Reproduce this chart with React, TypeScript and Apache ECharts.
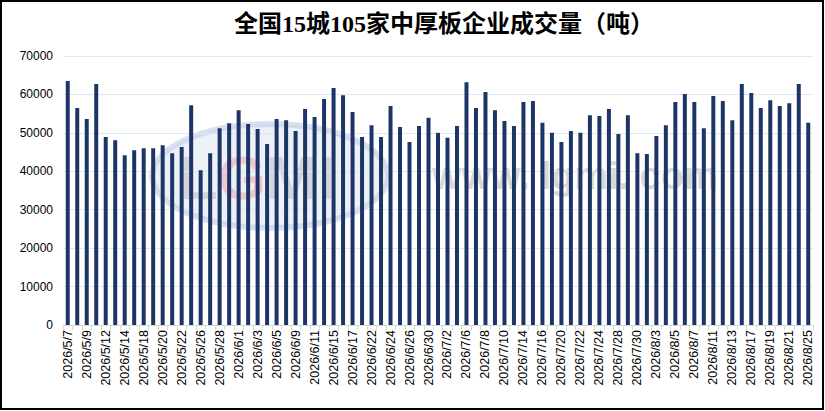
import React, { useEffect, useRef } from "react";
import * as echarts from "echarts";

const categories: string[] = [
  "2026/5/7", "2026/5/8", "2026/5/9", "2026/5/11", "2026/5/12", "2026/5/13", "2026/5/14", "2026/5/15",
  "2026/5/18", "2026/5/19", "2026/5/20", "2026/5/21", "2026/5/22", "2026/5/25", "2026/5/26", "2026/5/27",
  "2026/5/28", "2026/5/29", "2026/6/1", "2026/6/2", "2026/6/3", "2026/6/4", "2026/6/5", "2026/6/8",
  "2026/6/9", "2026/6/10", "2026/6/11", "2026/6/12", "2026/6/15", "2026/6/16", "2026/6/17", "2026/6/18",
  "2026/6/22", "2026/6/23", "2026/6/24", "2026/6/25", "2026/6/26", "2026/6/29", "2026/6/30", "2026/7/1",
  "2026/7/2", "2026/7/3", "2026/7/6", "2026/7/7", "2026/7/8", "2026/7/9", "2026/7/10", "2026/7/13",
  "2026/7/14", "2026/7/15", "2026/7/16", "2026/7/17", "2026/7/20", "2026/7/21", "2026/7/22", "2026/7/23",
  "2026/7/24", "2026/7/27", "2026/7/28", "2026/7/29", "2026/7/30", "2026/7/31", "2026/8/3", "2026/8/4",
  "2026/8/5", "2026/8/6", "2026/8/7", "2026/8/10", "2026/8/11", "2026/8/12", "2026/8/13", "2026/8/14",
  "2026/8/17", "2026/8/18", "2026/8/19", "2026/8/20", "2026/8/21", "2026/8/24", "2026/8/25",
];

const volumes: number[] = [
  63500, 56500, 53600, 62700, 48900, 48100, 44200, 45500,
  46000, 46000, 46800, 44700, 46300, 57200, 40300, 44700,
  51200, 52500, 55900, 52300, 51000, 47100, 53600, 53300,
  50500, 56200, 54100, 58800, 61700, 59800, 55400, 48900,
  52000, 48900, 57000, 51500, 47600, 51800, 53900, 50000,
  48700, 51800, 63200, 56500, 60600, 55900, 53100, 51800,
  58000, 58300, 52600, 50000, 47600, 50500, 50000, 54600,
  54400, 56200, 49700, 54600, 44700, 44500, 49200, 52000,
  58000, 60100, 58000, 51200, 59600, 58300, 53300, 62700,
  60400, 56500, 58500, 57000, 57700, 62700, 52600,
];

const titleText = "全国15城105家中厚板企业成交量（吨）";
const yMax = 70000;
const yInterval = 10000;

export default function App() {
  const ref = useRef<HTMLDivElement>(null);

  useEffect(() => {
    if (!ref.current) return;
    const chart = echarts.init(ref.current, undefined, { renderer: "svg" });
    chart.setOption({
      animation: false,
      backgroundColor: "#ffffff",
      title: {
        text: titleText,
        left: 439,
        top: 7,
        textAlign: "center",
        textStyle: {
          fontFamily: "'Liberation Serif', 'Noto Sans CJK SC', serif",
          fontWeight: "bold",
          fontSize: 24,
          color: "#000000",
        },
      },
      grid: { left: 63, right: 12, top: 56, bottom: 86 },
      graphic: [
        {
          type: "rect",
          silent: true,
          z: 100,
          shape: { x: 1, y: 1, width: 822, height: 408 },
          style: { fill: "none", stroke: "#000000", lineWidth: 2 },
        },
        {
          type: "group",
          silent: true,
          z: -10,
          children: [
            {
              type: "ellipse",
              shape: { cx: 270, cy: 176, rx: 118, ry: 52 },
              style: { fill: "rgba(200,212,232,0.35)", stroke: "rgba(190,205,228,0.6)", lineWidth: 6 },
            },
            {
              type: "text",
              x: 180,
              y: 146,
              style: {
                text: "L",
                font: "bold 62px 'Liberation Sans'",
                fill: "rgba(180,180,180,0.45)",
              },
            },
            {
              type: "text",
              x: 218,
              y: 146,
              style: {
                text: "G",
                font: "bold 62px 'Liberation Sans'",
                fill: "rgba(240,150,160,0.45)",
              },
            },
            {
              type: "text",
              x: 266,
              y: 146,
              style: {
                text: "MI",
                font: "bold 62px 'Liberation Sans'",
                fill: "rgba(180,180,180,0.45)",
              },
            },
            {
              type: "text",
              x: 432,
              y: 157,
              style: {
                text: "www. lgmi. com",
                font: "bold 38px 'Liberation Sans'",
                fill: "rgba(190,190,190,0.6)",
              },
            },
          ],
        },
      ],
      xAxis: {
        type: "category",
        data: categories,
        boundaryGap: true,
        axisLine: { show: true, lineStyle: { color: "#d9d9d9", width: 1 } },
        axisTick: { show: true, interval: 0, length: 5, lineStyle: { color: "#d9d9d9" } },
        axisLabel: {
          interval: 1,
          rotate: 90,
          margin: 5,
          fontSize: 12.5,
          fontFamily: "'Liberation Sans', Arial, sans-serif",
          color: "#000000",
        },
      },
      yAxis: {
        type: "value",
        min: 0,
        max: yMax,
        interval: yInterval,
        axisLine: { show: false },
        axisTick: { show: false },
        axisLabel: {
          margin: 10,
          fontSize: 12,
          fontFamily: "'Liberation Sans', Arial, sans-serif",
          color: "#000000",
          formatter: (v: number) => String(v),
        },
        splitLine: { show: true, lineStyle: { color: "#dce8f4", width: 1 } },
      },
      series: [
        {
          type: "bar",
          data: volumes,
          barWidth: "42%",
          itemStyle: { color: "#1c3566" },
        },
      ],
    });
    return () => chart.dispose();
  }, []);

  return (
    <div
      ref={ref}
      style={{ position: "fixed", left: 0, top: 0, width: 825, height: 411 }}
    />
  );
}
